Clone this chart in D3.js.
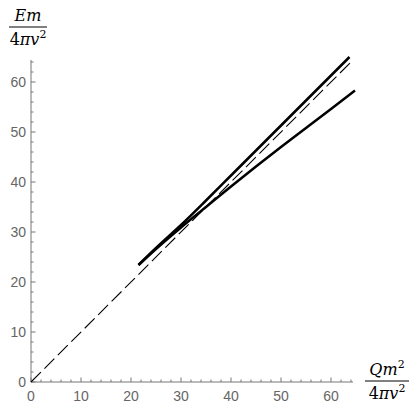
<!DOCTYPE html>
<html>
<head>
<meta charset="utf-8">
<script src="https://cdn.jsdelivr.net/npm/d3@7"></script>
<style>
  body { margin: 0; background: #fff; }
</style>
</head>
<body>
<div id="chart"></div>
<script>
'use strict'

// values
const majorTicks = [0, 10, 20, 30, 40, 50, 60]
const minorTicks = d3.range(0, 65, 2)
const diagonal = [[0, 0], [64.3, 64.3]]
const upperBranch = [
  [21.5, 23.4], [25, 26.8], [30, 31.4], [35, 36.3], [40, 41.3],
  [45, 46.3], [50, 51.3], [55, 56.3], [60, 61.3], [63.7, 65.0]
]
const lowerBranch = [
  [21.5, 23.4], [25, 26.6], [30, 30.9], [35, 35.0], [40, 39.1],
  [45, 43.1], [50, 47.0], [55, 50.8], [60, 54.6], [64.8, 58.3]
]

const width = 413
const height = 405
const x0 = 31
const y0 = 382
const xMax = 64.4
const yMax = 64.4

const x = d3.scaleLinear().domain([0, xMax]).range([x0, x0 + 5 * xMax])
const y = d3.scaleLinear().domain([0, yMax]).range([y0, y0 - 5 * yMax])

const svg = d3.select('#chart')
  .append('svg')
  .attr('width', width)
  .attr('height', height)

const axisColor = '#777'
const sansFont = "'Liberation Sans', Arial, sans-serif"
const serifFont = "'DejaVu Serif', 'Liberation Serif', serif"

// axes lines
svg.append('line')
  .attr('x1', x(0)).attr('x2', x(xMax))
  .attr('y1', y(0)).attr('y2', y(0))
  .attr('stroke', axisColor).attr('stroke-width', 1)
svg.append('line')
  .attr('x1', x(0)).attr('x2', x(0))
  .attr('y1', y(0)).attr('y2', y(yMax))
  .attr('stroke', axisColor).attr('stroke-width', 1)

// ticks: minor ones in between the majors
const isMajor = v => majorTicks.includes(v)
svg.selectAll('line.xtick')
  .data(minorTicks)
  .enter()
  .append('line')
  .attr('class', 'xtick')
  .attr('x1', d => x(d)).attr('x2', d => x(d))
  .attr('y1', y(0))
  .attr('y2', d => y(0) - (isMajor(d) ? 4.5 : 2.5))
  .attr('stroke', axisColor)
svg.selectAll('line.ytick')
  .data(minorTicks)
  .enter()
  .append('line')
  .attr('class', 'ytick')
  .attr('y1', d => y(d)).attr('y2', d => y(d))
  .attr('x1', x(0))
  .attr('x2', d => x(0) + (isMajor(d) ? 4.5 : 2.5))
  .attr('stroke', axisColor)

svg.selectAll('text.xlab')
  .data(majorTicks)
  .enter()
  .append('text')
  .attr('font-family', sansFont)
  .attr('font-size', 14)
  .attr('fill', '#666')
  .attr('x', d => x(d))
  .attr('y', y(0) + 19)
  .attr('text-anchor', 'middle')
  .text(d => d)
svg.selectAll('text.ylab')
  .data(majorTicks)
  .enter()
  .append('text')
  .attr('font-family', sansFont)
  .attr('font-size', 14)
  .attr('fill', '#666')
  .attr('x', x(0) - 5)
  .attr('y', d => y(d) + 5)
  .attr('text-anchor', 'end')
  .text(d => d)

// axis titles as fractions
function drawFraction (cx, lineY, num, den, w) {
  const g = svg.append('g')
    .attr('font-family', serifFont)
    .attr('font-size', 16)
  const t = g.append('text')
    .attr('x', cx).attr('y', lineY - 6).attr('text-anchor', 'middle')
  num(t)
  g.append('line')
    .attr('x1', cx - w / 2).attr('x2', cx + w / 2)
    .attr('y1', lineY).attr('y2', lineY)
    .attr('stroke', '#000').attr('stroke-width', 1)
  const b = g.append('text')
    .attr('x', cx).attr('y', lineY + 18).attr('text-anchor', 'middle')
  den(b)
}
const italic = (t, s) => t.append('tspan').attr('font-style', 'italic').text(s)
const sup = (t, s) => t.append('tspan').attr('font-size', 11).attr('dy', -7).text(s)
const fourPiV2 = t => {
  t.append('tspan').text('4')
  italic(t, 'πv')
  sup(t, '2')
}

drawFraction(28, 27, t => italic(t, 'Em'), fourPiV2, 38)
drawFraction(387, 381, t => { italic(t, 'Qm'); sup(t, '2') }, fourPiV2, 44)

// curves
const line = d3.line().x(d => x(d[0])).y(d => y(d[1]))
const curve = d3.line().x(d => x(d[0])).y(d => y(d[1])).curve(d3.curveMonotoneX)

svg.append('path')
  .datum(diagonal)
  .attr('d', line)
  .attr('fill', 'none')
  .attr('stroke', '#000')
  .attr('stroke-width', 1.1)
  .attr('stroke-dasharray', '14,5')

svg.selectAll('path.branch')
  .data([upperBranch, lowerBranch])
  .enter()
  .append('path')
  .attr('class', 'branch')
  .attr('d', curve)
  .attr('fill', 'none')
  .attr('stroke', '#000')
  .attr('stroke-width', 2.5)
</script>
</body>
</html>
